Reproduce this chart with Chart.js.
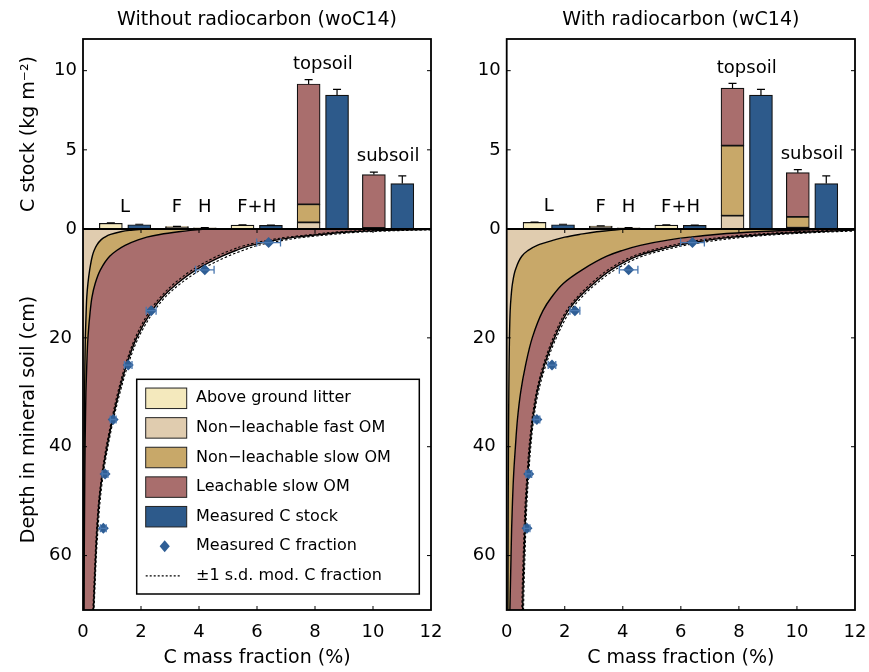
<!DOCTYPE html>
<html>
<head>
<meta charset="utf-8">
<script src="https://cdn.jsdelivr.net/npm/chart.js@4.4.1/dist/chart.umd.min.js"></script>
<style>
  html, body { margin: 0; padding: 0; background: #fff; }
  #wrap { position: relative; width: 869px; height: 672px; }
  #wrap canvas { position: absolute; left: 0; top: 0; }
</style>
</head>
<body>
<div id="wrap">
  <canvas id="woC14" width="869" height="672"></canvas>
  <canvas id="wC14" width="869" height="672"></canvas>
</div>
<script>
// ---- Organic horizons / soil layers (upper bar panel) ----
const horizons = ['L', 'F', 'H', 'F+H', 'topsoil', 'subsoil'];

// Modelled C stocks (kg m-2) by pool, calibration without radiocarbon
const woLitter = [0.36, 0, 0, 0.25, 0, 0];
const woFast   = [0, 0.12, 0.05, 0, 0.42, 0.02];
const woSlow   = [0, 0.04, 0.03, 0, 1.14, 0.05];
const woLeach  = [0, 0, 0, 0, 7.60, 3.37];
const woStockErr = [0.03, 0.01, 0.01, 0.02, 0.27, 0.15];

// Modelled C stocks (kg m-2) by pool, calibration with radiocarbon
const wLitter = [0.42, 0, 0, 0.25, 0, 0];
const wFast   = [0, 0.13, 0.04, 0, 0.84, 0.08];
const wSlow   = [0, 0.06, 0.04, 0, 4.43, 0.68];
const wLeach  = [0, 0, 0, 0, 3.63, 2.80];
const wStockErr = [0.02, 0.01, 0.01, 0.02, 0.30, 0.19];

// Measured C stocks (kg m-2)
const measStock    = [0.27, null, null, 0.23, 8.46, 2.87];
const measStockErr = [0.03, null, null, 0.02, 0.36, 0.48];

// ---- Depth profiles of C mass fraction (%) in the mineral soil ----
const depth = [0, 0.25, 0.5, 1, 1.5, 2, 3, 4, 5, 7.5, 10, 12.5, 15, 20, 25, 30, 35, 40, 45, 50, 55, 60, 65, 70];

// without radiocarbon: cumulative pool boundaries and +/-1 s.d. of the total
const woFastTop = [2.1, 1.6, 1.3, 0.95, 0.75, 0.62, 0.47, 0.38, 0.32, 0.23, 0.17, 0.13, 0.11, 0.08, 0.065, 0.055, 0.047, 0.04, 0.035, 0.03, 0.027, 0.024, 0.021, 0.018];
const woSlowTop = [4.2, 3.7, 3.3, 2.65, 2.2, 1.9, 1.45, 1.15, 0.92, 0.6, 0.42, 0.31, 0.25, 0.17, 0.13, 0.1, 0.085, 0.072, 0.062, 0.055, 0.049, 0.044, 0.04, 0.036];
const woTotal   = [12.5, 10.5, 9.3, 8.2, 7.3, 6.7, 5.8, 5.25, 4.8, 3.9, 3.25, 2.75, 2.38, 1.85, 1.5, 1.24, 1.02, 0.83, 0.67, 0.56, 0.49, 0.44, 0.4, 0.36];
const woSdLo    = [11.6, 9.9, 8.9, 7.9, 7.05, 6.45, 5.6, 5.05, 4.62, 3.77, 3.15, 2.67, 2.31, 1.8, 1.46, 1.2, 0.99, 0.8, 0.65, 0.54, 0.47, 0.42, 0.38, 0.34];
const woSdHi    = [13.4, 11.2, 9.8, 8.6, 7.65, 7.0, 6.05, 5.48, 5.0, 4.06, 3.37, 2.84, 2.46, 1.91, 1.55, 1.28, 1.05, 0.86, 0.7, 0.59, 0.52, 0.46, 0.42, 0.38];

// with radiocarbon
const wFastTop = [4.0, 3.6, 3.1, 2.5, 2.0, 1.65, 1.05, 0.72, 0.52, 0.3, 0.2, 0.15, 0.12, 0.095, 0.082, 0.073, 0.066, 0.06, 0.056, 0.052, 0.049, 0.046, 0.043, 0.04];
const wSlowTop = [11.0, 9.8, 8.6, 7.2, 6.3, 5.6, 4.6, 3.95, 3.45, 2.6, 1.95, 1.55, 1.25, 0.88, 0.65, 0.48, 0.37, 0.3, 0.24, 0.2, 0.17, 0.15, 0.13, 0.11];
const wTotal   = [12.8, 11.8, 10.6, 8.9, 7.8, 7.0, 5.9, 5.1, 4.5, 3.6, 3.0, 2.5, 2.12, 1.65, 1.3, 1.05, 0.9, 0.8, 0.73, 0.67, 0.63, 0.6, 0.57, 0.55];
const wSdLo    = [12.0, 11.1, 10.0, 8.45, 7.45, 6.7, 5.68, 4.92, 4.35, 3.49, 2.91, 2.43, 2.06, 1.6, 1.26, 1.02, 0.87, 0.77, 0.7, 0.64, 0.6, 0.57, 0.54, 0.52];
const wSdHi    = [13.6, 12.6, 11.3, 9.4, 8.2, 7.35, 6.15, 5.32, 4.68, 3.73, 3.1, 2.59, 2.2, 1.71, 1.35, 1.09, 0.93, 0.83, 0.76, 0.7, 0.66, 0.63, 0.6, 0.58];

// Measured C mass fraction (%) by sampling depth (cm)
const measDepth  = [2.5, 7.5, 15, 25, 35, 45, 55];
const measFrac   = [6.4, 4.2, 2.35, 1.56, 1.04, 0.76, 0.70];
const measFracSd = [0.41, 0.32, 0.17, 0.13, 0.10, 0.10, 0.10];

// Tick values
const fracTicks  = [0, 2, 4, 6, 8, 10, 12];
const stockTicks = [0, 5, 10];
const depthTicks = [0, 20, 40, 60];

// ---- Layout of the bar groups along the shared horizontal axis ----
const slotCenter = [1.45, 3.24, 4.2, 5.99, 8.27, 10.52];
const pairOffset = 0.49;
const modelX = i => measStock[i] != null ? slotCenter[i] - pairOffset : slotCenter[i];
const measX  = i => slotCenter[i] + pairOffset;

const COLORS = {
  litter: '#F4E9BD',
  fast:   '#E0CCAF',
  slow:   '#C8A869',
  leach:  '#A96E6D',
  meas:   '#2D5A8B',
  point:  '#2F5E95',
  pointErr: '#4A78B0'
};

const FAMILY = '"DejaVu Sans", "Liberation Sans", sans-serif';
Chart.defaults.font.family = FAMILY;
Chart.defaults.color = '#000';

const legendItems = [
  { kind: 'patch', color: COLORS.litter, text: 'Above ground litter' },
  { kind: 'patch', color: COLORS.fast,   text: 'Non\u2212leachable fast OM' },
  { kind: 'patch', color: COLORS.slow,   text: 'Non\u2212leachable slow OM' },
  { kind: 'patch', color: COLORS.leach,  text: 'Leachable slow OM' },
  { kind: 'patch', color: COLORS.meas,   text: 'Measured C stock' },
  { kind: 'diamond', color: COLORS.point, text: 'Measured C fraction' },
  { kind: 'dash', text: '\u00B11 s.d. mod. C fraction' }
];

function drawDiamond(ctx, x, y, r, color) {
  ctx.fillStyle = color;
  ctx.beginPath();
  ctx.moveTo(x, y - r);
  ctx.lineTo(x + r * 0.85, y);
  ctx.lineTo(x, y + r);
  ctx.lineTo(x - r * 0.85, y);
  ctx.closePath();
  ctx.fill();
}

// Error bars + group labels on the stock bars
function stockDecor(p) {
  return {
    id: 'stockDecor',
    afterDatasetsDraw(chart) {
      const { ctx, scales: { x, yStock } } = chart;
      ctx.save();
      ctx.strokeStyle = '#000';
      ctx.lineWidth = 1.2;
      const cap = 4;
      const errBar = (xv, top, err) => {
        const px = x.getPixelForValue(xv);
        const y1 = yStock.getPixelForValue(top);
        const y2 = yStock.getPixelForValue(top + err);
        ctx.beginPath();
        ctx.moveTo(px, y1); ctx.lineTo(px, y2);
        ctx.moveTo(px - cap, y2); ctx.lineTo(px + cap, y2);
        ctx.stroke();
      };
      ctx.font = '18px ' + FAMILY;
      ctx.textAlign = 'center';
      ctx.textBaseline = 'middle';
      horizons.forEach((h, i) => {
        const modelTop = p.litter[i] + p.fast[i] + p.slow[i] + p.leach[i];
        errBar(modelX(i), modelTop, p.stockErr[i]);
        let groupTop = modelTop + p.stockErr[i];
        if (measStock[i] != null) {
          errBar(measX(i), measStock[i], measStockErr[i]);
          groupTop = Math.max(groupTop, measStock[i] + measStockErr[i]);
        }
        ctx.fillStyle = '#000';
        ctx.fillText(h, x.getPixelForValue(slotCenter[i]),
          yStock.getPixelForValue(Math.max(groupTop, 0.4)) - 15.5);
      });
      ctx.restore();
    }
  };
}

// Horizontal error bars on the measured C fractions
const fracErrors = {
  id: 'fracErrors',
  afterDatasetsDraw(chart) {
    const { ctx, scales: { x, yDepth } } = chart;
    ctx.save();
    ctx.strokeStyle = COLORS.pointErr;
    ctx.lineWidth = 1.3;
    measDepth.forEach((d, i) => {
      const py = yDepth.getPixelForValue(d);
      const x1 = x.getPixelForValue(measFrac[i] - measFracSd[i]);
      const x2 = x.getPixelForValue(measFrac[i] + measFracSd[i]);
      ctx.beginPath();
      ctx.moveTo(x1, py); ctx.lineTo(x2, py);
      ctx.moveTo(x1, py - 4); ctx.lineTo(x1, py + 4);
      ctx.moveTo(x2, py - 4); ctx.lineTo(x2, py + 4);
      ctx.stroke();
    });
    ctx.restore();
  }
};

// Box frame, zero line and inward tick marks
const frame = {
  id: 'frame',
  afterDatasetsDraw(chart) {
    const { ctx, chartArea: a, scales: { x, yStock, yDepth } } = chart;
    const tl = 4;
    const y0 = yStock.getPixelForValue(0);
    ctx.save();
    ctx.strokeStyle = '#000';
    ctx.lineWidth = 1;
    ctx.beginPath();
    fracTicks.filter(v => v > 0 && v < 12).forEach(v => {
      const px = x.getPixelForValue(v);
      ctx.moveTo(px, a.bottom); ctx.lineTo(px, a.bottom - tl);
      ctx.moveTo(px, y0); ctx.lineTo(px, y0 + tl);
    });
    stockTicks.filter(v => v > 0).forEach(v => {
      const py = yStock.getPixelForValue(v);
      ctx.moveTo(a.left, py); ctx.lineTo(a.left + tl, py);
      ctx.moveTo(a.right, py); ctx.lineTo(a.right - tl, py);
    });
    depthTicks.filter(v => v > 0).forEach(v => {
      const py = yDepth.getPixelForValue(v);
      ctx.moveTo(a.left, py); ctx.lineTo(a.left + tl, py);
      ctx.moveTo(a.right, py); ctx.lineTo(a.right - tl, py);
    });
    ctx.stroke();
    ctx.lineWidth = 1.8;
    ctx.strokeRect(a.left, a.top, a.right - a.left, a.bottom - a.top);
    ctx.beginPath();
    ctx.moveTo(a.left, y0); ctx.lineTo(a.right, y0);
    ctx.stroke();
    ctx.restore();
  }
};

// Pool legend placed in the lower-right part of the depth panel
const poolLegend = {
  id: 'poolLegend',
  afterDraw(chart) {
    const { ctx, chartArea: a } = chart;
    const w = 282.6, h = 214.7;
    const left = a.right - 11.7 - w;
    const top = a.bottom - 16 - h;
    ctx.save();
    ctx.fillStyle = '#fff';
    ctx.fillRect(left, top, w, h);
    ctx.strokeStyle = '#000';
    ctx.lineWidth = 1.5;
    ctx.strokeRect(left, top, w, h);
    ctx.font = '16px ' + FAMILY;
    ctx.textBaseline = 'middle';
    ctx.textAlign = 'left';
    legendItems.forEach((it, i) => {
      const cy = top + 19 + i * 29.6;
      const px = left + 9, pw = 41, ph = 20.5;
      if (it.kind === 'patch') {
        ctx.fillStyle = it.color;
        ctx.fillRect(px, cy - ph / 2, pw, ph);
        ctx.lineWidth = 1;
        ctx.strokeStyle = '#222';
        ctx.strokeRect(px, cy - ph / 2, pw, ph);
      } else if (it.kind === 'diamond') {
        drawDiamond(ctx, px + pw / 2 - 1.5, cy, 6, it.color);
      } else {
        ctx.strokeStyle = '#000';
        ctx.lineWidth = 1.2;
        ctx.setLineDash([2, 2]);
        ctx.beginPath();
        ctx.moveTo(px, cy); ctx.lineTo(px + 34.5, cy);
        ctx.stroke();
        ctx.setLineDash([]);
      }
      ctx.fillStyle = '#000';
      ctx.fillText(it.text, left + 59.3, cy);
    });
    ctx.restore();
  }
};

function makePanel(canvasId, p) {
  const barData = vals => horizons
    .map((h, i) => vals[i] > 0 ? { x: modelX(i), y: vals[i] } : null)
    .filter(Boolean);
  const profile = vals => depth.map((d, i) => ({ x: vals[i], y: d }));

  const barDs = (label, data, color) => ({
    type: 'bar', label, data,
    backgroundColor: color, borderColor: '#111', borderWidth: 1.2,
    borderSkipped: false, barThickness: 23, stack: 'stock',
    xAxisID: 'x', yAxisID: 'yStock', order: 5
  });
  const lineDs = (label, vals, extra) => Object.assign({
    type: 'line', label, indexAxis: 'y', data: profile(vals),
    borderColor: '#000', borderWidth: 1.4, pointRadius: 0,
    cubicInterpolationMode: 'monotone',
    xAxisID: 'x', yAxisID: 'yDepth', order: 3
  }, extra);

  const datasets = [
    barDs('Above ground litter', barData(p.litter), COLORS.litter),        // 0
    barDs('Non-leachable fast OM', barData(p.fast), COLORS.fast),          // 1
    barDs('Non-leachable slow OM', barData(p.slow), COLORS.slow),          // 2
    barDs('Leachable slow OM', barData(p.leach), COLORS.leach),            // 3
    barDs('Measured C stock', horizons
      .map((h, i) => measStock[i] != null ? { x: measX(i), y: measStock[i] } : null)
      .filter(Boolean), COLORS.meas),                                      // 4
    lineDs('fast pool', p.fastTop, { fill: 'origin', backgroundColor: COLORS.fast }),   // 5
    lineDs('slow pool', p.slowTop, { fill: 5, backgroundColor: COLORS.slow }),          // 6
    lineDs('leachable pool', p.total, { fill: 6, backgroundColor: COLORS.leach }),      // 7
    lineDs('-1 s.d.', p.sdLo, { fill: false, borderWidth: 1.1, borderDash: [2.5, 2], order: 2 }),
    lineDs('+1 s.d.', p.sdHi, { fill: false, borderWidth: 1.1, borderDash: [2.5, 2], order: 2 }),
    {
      type: 'scatter', label: 'Measured C fraction',
      data: measDepth.map((d, i) => ({ x: measFrac[i], y: d })),
      pointStyle: 'rectRot', pointRadius: 5.5, backgroundColor: COLORS.point,
      borderColor: COLORS.point, borderWidth: 0, fill: false,
      xAxisID: 'x', yAxisID: 'yDepth', order: 1
    }
  ];

  const tickFont = { size: 18 };
  const titleFont = { size: 19 };

  const plugins = [stockDecor(p), fracErrors, frame];
  if (p.legend) plugins.push(poolLegend);

  return new Chart(document.getElementById(canvasId), {
    type: 'bar',
    data: { datasets },
    options: {
      responsive: false,
      animation: false,
      events: [],
      devicePixelRatio: 1,
      layout: { padding: { left: p.padLeft, right: p.padRight, top: 0, bottom: 0 } },
      plugins: {
        legend: { display: false },
        tooltip: { enabled: false },
        title: {
          display: true, text: p.title, fullSize: false, color: '#000',
          font: { size: 19, weight: 'normal' }, padding: { top: 8.5, bottom: 7.7 }
        },
        filler: { drawTime: 'beforeDatasetsDraw', propagate: false }
      },
      scales: {
        x: {
          type: 'linear', axis: 'x', position: 'bottom', min: 0, max: 12, offset: false,
          grid: { display: false, drawTicks: false }, border: { display: false },
          ticks: { font: tickFont, padding: 11.5, maxRotation: 0, autoSkip: false },
          afterBuildTicks: s => { s.ticks = fracTicks.map(v => ({ value: v })); },
          afterFit: s => { s.height = 62; s.paddingLeft = 0; s.paddingRight = 0; },
          title: { display: true, text: 'C mass fraction (%)', font: titleFont, padding: { top: 0, bottom: 3 } }
        },
        yStock: {
          type: 'linear', axis: 'y', position: 'left', stack: 'panel', stackWeight: 190, weight: 1,
          min: 0, max: 12, stacked: true,
          grid: { display: false, drawTicks: false }, border: { display: false },
          ticks: { font: tickFont, padding: 6 },
          afterBuildTicks: s => { s.ticks = stockTicks.map(v => ({ value: v })); },
          afterFit: s => { s.width = p.axisW; s.paddingTop = 0; s.paddingBottom = 0; },
          title: { display: p.yTitles, text: 'C stock (kg m\u207B\u00B2)', font: titleFont, padding: { top: 18, bottom: 0 } }
        },
        yDepth: {
          type: 'linear', axis: 'y', position: 'left', stack: 'panel', stackWeight: 381, weight: 0,
          min: 0, max: 70, reverse: true,
          grid: { display: false, drawTicks: false }, border: { display: false },
          ticks: { font: tickFont, padding: 11, callback: v => v === 0 ? '' : v },
          afterBuildTicks: s => { s.ticks = depthTicks.map(v => ({ value: v })); },
          afterFit: s => { s.width = p.axisW; s.paddingTop = 0; s.paddingBottom = 0; },
          title: { display: p.yTitles, text: 'Depth in mineral soil (cm)', font: titleFont, padding: { top: 18, bottom: 0 } }
        }
      }
    },
    plugins
  });
}

makePanel('woC14', {
  title: 'Without radiocarbon (woC14)',
  litter: woLitter, fast: woFast, slow: woSlow, leach: woLeach, stockErr: woStockErr,
  fastTop: woFastTop, slowTop: woSlowTop, total: woTotal, sdLo: woSdLo, sdHi: woSdHi,
  yTitles: true, legend: true, padLeft: 0, padRight: 438, axisW: 83
});

makePanel('wC14', {
  title: 'With radiocarbon (wC14)',
  litter: wLitter, fast: wFast, slow: wSlow, leach: wLeach, stockErr: wStockErr,
  fastTop: wFastTop, slowTop: wSlowTop, total: wTotal, sdLo: wSdLo, sdHi: wSdHi,
  yTitles: false, legend: false, padLeft: 440, padRight: 14, axisW: 66.7
});
</script>
</body>
</html>
